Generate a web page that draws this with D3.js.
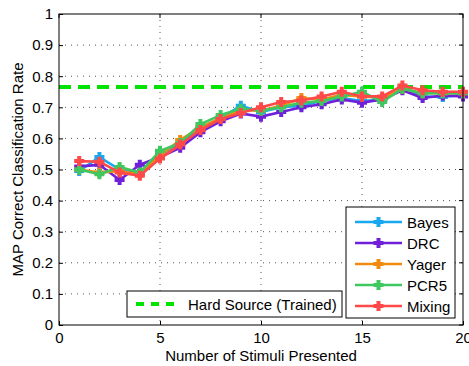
<!DOCTYPE html>
<html><head><meta charset="utf-8">
<script src="https://cdn.jsdelivr.net/npm/d3@7"></script>
<style>body{margin:0;background:#fff}svg{display:block}text{font-family:"Liberation Sans",Arial,sans-serif}</style>
</head><body>
<svg id="c" width="469" height="366"></svg>
<script>
const stimuli = d3.range(1, 21);
const bayes  = [0.495,0.540,0.500,0.490,0.550,0.580,0.635,0.665,0.705,0.685,0.700,0.705,0.720,0.730,0.720,0.725,0.760,0.735,0.733,0.740];
const drc    = [0.510,0.515,0.466,0.515,0.540,0.570,0.620,0.655,0.680,0.670,0.685,0.700,0.710,0.725,0.715,0.725,0.755,0.730,0.738,0.735];
const yager  = [0.500,0.490,0.495,0.485,0.545,0.595,0.635,0.665,0.690,0.690,0.705,0.730,0.725,0.740,0.735,0.730,0.760,0.745,0.745,0.745];
const pcr5   = [0.500,0.485,0.508,0.490,0.560,0.585,0.646,0.675,0.695,0.690,0.700,0.715,0.720,0.735,0.750,0.717,0.760,0.745,0.745,0.745];
const mixing = [0.527,0.525,0.490,0.480,0.535,0.580,0.627,0.662,0.682,0.700,0.717,0.722,0.735,0.750,0.735,0.735,0.770,0.755,0.750,0.750];
const hardSource = 0.765;
const seriesNames = ["Bayes","DRC","Yager","PCR5","Mixing"];
const seriesColors = ["#18a8f0","#7020d8","#f08a10","#40c860","#ff4848"];
const xTicks = [0,5,10,15,20];
const yTicks = [0,0.1,0.2,0.3,0.4,0.5,0.6,0.7,0.8,0.9,1];

const FS = 15;
const svg = d3.select("#c");
const L=59, R=463, T=14, B=325;
const x = d3.scaleLinear().domain([0,20]).range([L,R]);
const y = d3.scaleLinear().domain([0,1]).range([B,T]);

// grid
const g = svg.append("g");
g.selectAll(".gx").data(xTicks.slice(1,-1)).enter().append("line")
  .attr("x1",d=>x(d)).attr("x2",d=>x(d)).attr("y1",T).attr("y2",B)
  .attr("stroke","#555").attr("stroke-width",1).attr("stroke-dasharray","1,5");
g.selectAll(".gy").data(yTicks.slice(1,-1)).enter().append("line")
  .attr("y1",d=>y(d)).attr("y2",d=>y(d)).attr("x1",L).attr("x2",R)
  .attr("stroke","#555").attr("stroke-width",1).attr("stroke-dasharray","1,5");

// axes
const ax = svg.append("g").attr("transform",`translate(0,${B})`)
  .call(d3.axisBottom(x).tickValues(xTicks).tickSize(-4).tickPadding(7).tickFormat(d3.format("d")));
const ay = svg.append("g").attr("transform",`translate(${L},0)`)
  .call(d3.axisLeft(y).tickValues(yTicks).tickSize(-4).tickPadding(6).tickFormat(d=>d===0||d===1?String(d):d.toFixed(1)));
[ax,ay].forEach(a=>{a.select(".domain").remove();a.selectAll("text").attr("font-size",FS).attr("fill","#000").attr("font-family","Liberation Sans, Arial, sans-serif");a.selectAll("line").attr("stroke","#000");});
// top/right ticks
svg.append("g").selectAll("line").data(xTicks).enter().append("line")
  .attr("x1",d=>x(d)).attr("x2",d=>x(d)).attr("y1",T).attr("y2",T+4).attr("stroke","#000");
svg.append("g").selectAll("line").data(yTicks).enter().append("line")
  .attr("y1",d=>y(d)).attr("y2",d=>y(d)).attr("x1",R).attr("x2",R-4).attr("stroke","#000");

// hard source line
svg.append("line").attr("x1",L).attr("x2",R).attr("y1",y(hardSource)).attr("y2",y(hardSource))
  .attr("stroke","#00e400").attr("stroke-width",4).attr("stroke-dasharray","12,7");

// series
const allSeries = [bayes,drc,yager,pcr5,mixing];
const line = d3.line().x((d,i)=>x(stimuli[i])).y(d=>y(d));
function marker(sel, cx, cy, col){
  const s=5;
  sel.append("path").attr("d",`M${cx-s},${cy}L${cx+s},${cy}M${cx},${cy-s}L${cx},${cy+s}`)
    .attr("stroke",col).attr("stroke-width",4).attr("fill","none");
}
allSeries.forEach((vals,k)=>{
  const gs = svg.append("g");
  gs.append("path").datum(vals).attr("d",line).attr("fill","none")
    .attr("stroke",seriesColors[k]).attr("stroke-width",2.6).attr("stroke-linejoin","round");
  vals.forEach((v,i)=>marker(gs,x(stimuli[i]),y(v),seriesColors[k]));
});

// frame
svg.append("rect").attr("x",L).attr("y",T).attr("width",R-L).attr("height",B-T)
  .attr("fill","none").attr("stroke","#000").attr("stroke-width",1);

// labels
svg.append("text").attr("x",(L+R)/2).attr("y",361).attr("text-anchor","middle").attr("font-size",FS).text("Number of Stimuli Presented");
svg.append("text").attr("transform",`translate(23,${(T+B)/2}) rotate(-90)`).attr("text-anchor","middle").attr("font-size",FS).text("MAP Correct Classification Rate");

// legend 1
svg.append("rect").attr("x",127).attr("y",291).attr("width",215).attr("height",26).attr("fill","#fff").attr("stroke","#000");
svg.append("line").attr("x1",136).attr("x2",180).attr("y1",304).attr("y2",304)
  .attr("stroke","#00e400").attr("stroke-width",4).attr("stroke-dasharray","8,7");
svg.append("text").attr("x",188).attr("y",309.5).attr("font-size",FS).text("Hard Source (Trained)");

// legend 2
svg.append("rect").attr("x",346).attr("y",207).attr("width",109).attr("height",111).attr("fill","#fff").attr("stroke","#000");
seriesNames.forEach((n,k)=>{
  const yy = 222 + k*21;
  svg.append("line").attr("x1",355).attr("x2",402).attr("y1",yy).attr("y2",yy).attr("stroke",seriesColors[k]).attr("stroke-width",2.6);
  marker(svg,378.5,yy,seriesColors[k]);
  svg.append("text").attr("x",407).attr("y",yy+5.5).attr("font-size",FS).text(n);
});
</script>
</body></html>
